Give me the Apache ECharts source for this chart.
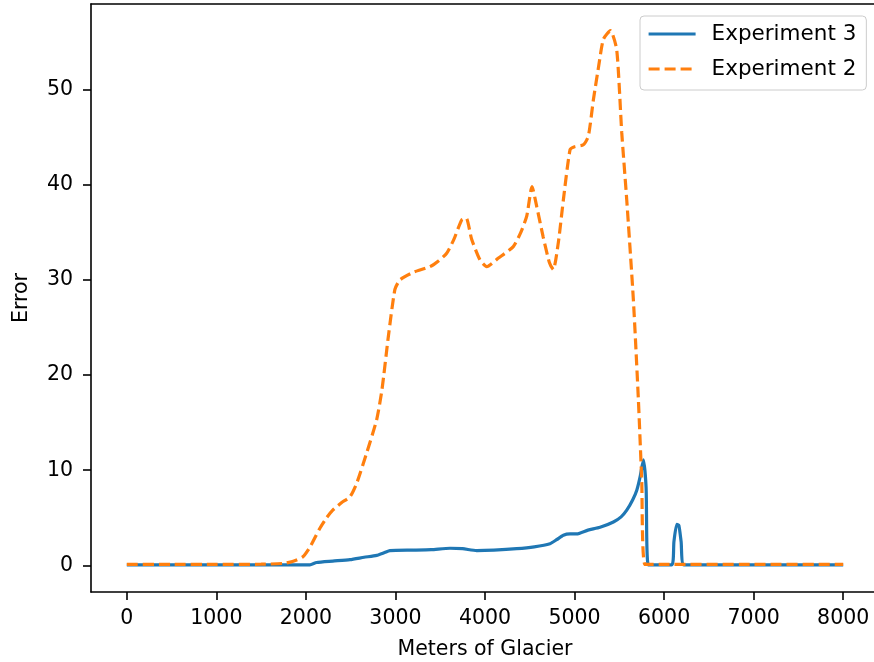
<!DOCTYPE html>
<html>
<head>
<meta charset="utf-8">
<script src="https://cdn.jsdelivr.net/npm/echarts@6/dist/echarts.min.js"></script>
<style>
  html, body { margin: 0; padding: 0; background: #fff; }
  #chart { width: 874px; height: 662px; }
</style>
</head>
<body>
<div id="chart"></div>
<script>
// data
var exp3X = [0, 1000, 2000, 2045, 2119, 2300, 2492, 2650, 2790, 2880, 2938, 3200, 3400, 3609, 3750, 3907,
  4100, 4354, 4550, 4726, 4800, 4875, 4950, 5024, 5150, 5285, 5434, 5520, 5583, 5650, 5695, 5732,
  5769, 5799, 5825, 6086, 6110, 6142, 6165, 6190, 6223, 8000];
var exp3Y = [0.05, 0.05, 0.05, 0.05, 0.3, 0.45, 0.6, 0.85, 1.05, 1.35, 1.55, 1.6, 1.65, 1.8, 1.75, 1.55,
  1.6, 1.75, 1.95, 2.28, 2.7, 3.16, 3.3, 3.3, 3.7, 4.0, 4.56, 5.1, 5.8, 6.9, 7.9, 9.3,
  11.1, 8.2, 0.05, 0.05, 2.5, 4.3, 4.2, 2.5, 0.05, 0.05];

var exp2X = [0, 500, 1000, 1500, 1743, 1850, 1966, 2050, 2150, 2231, 2300, 2400, 2492, 2566, 2678, 2790,
  2850, 2920, 2994, 3050, 3199, 3385, 3480, 3572, 3650, 3740, 3790, 3850, 3944, 4019, 4150, 4316,
  4400, 4466, 4525, 4578, 4650, 4720, 4763, 4820, 4875, 4950, 5000, 5098, 5154, 5210, 5270, 5322,
  5400, 5471, 5527, 5583, 5657, 5713, 5750, 5788, 6000, 7000, 8000];
var exp2Y = [0.1, 0.1, 0.1, 0.12, 0.2, 0.4, 0.9, 2.0, 3.8, 5.0, 5.8, 6.6, 7.2, 8.6, 11.8, 15.3,
  18.5, 24.0, 29.0, 30.0, 30.8, 31.4, 32.0, 32.8, 34.2, 36.3, 36.5, 34.3, 32.1, 31.4, 32.3, 33.5,
  35.0, 36.7, 39.8, 37.7, 34.5, 31.8, 31.1, 34.0, 38.4, 43.7, 44.0, 44.2, 45.1, 48.9, 52.5, 55.3,
  56.2, 54.2, 45.5, 38.4, 27.9, 17.4, 9.0, 0.1, 0.1, 0.1, 0.1];

var xTicks = [0, 1000, 2000, 3000, 4000, 5000, 6000, 7000, 8000];
var yTicks = [0, 10, 20, 30, 40, 50];

function pairs(xs, ys) {
  return xs.map(function (x, i) { return [x, ys[i]]; });
}

var myChart = echarts.init(document.getElementById('chart'));
var font = 'DejaVu Sans';
var spine = { color: '#000', width: 1.6 };

var option = {
  animation: false,
  backgroundColor: '#fff',
  textStyle: { fontFamily: font },
  grid: {
    left: 91, top: 4, width: 788, height: 588,
    outerBoundsMode: 'none', containLabel: false
  },
  legend: {
    orient: 'vertical',
    left: 640, top: 16,
    padding: [7, 10, 10, 7],
    itemWidth: 47, itemHeight: 20, itemGap: 13,
    backgroundColor: 'rgba(255,255,255,0.8)',
    borderColor: '#cccccc', borderWidth: 1, borderRadius: 4,
    itemStyle: { opacity: 0 },
    lineStyle: { width: 3.2 },
    textStyle: { fontFamily: font, fontSize: 21.5, color: '#000', padding: [0, 0, 0, 11] },
    data: ['Experiment 3', 'Experiment 2']
  },
  xAxis: [
    {
      type: 'value', min: -400, max: 8400,
      name: 'Meters of Glacier', nameLocation: 'middle', nameGap: 47,
      nameTextStyle: { fontFamily: font, fontSize: 20.5, color: '#000' },
      splitLine: { show: false },
      axisLine: { show: true, onZero: false, lineStyle: spine },
      axisTick: { show: true, length: 8, lineStyle: spine, customValues: xTicks },
      axisLabel: {
        fontFamily: font, fontSize: 20.5, color: '#000', margin: 16, customValues: xTicks,
        formatter: function (v) { return String(v); }
      }
    },
    {
      // top spine only
      type: 'value', position: 'top', min: -400, max: 8400,
      splitLine: { show: false },
      axisLine: { show: true, onZero: false, lineStyle: spine },
      axisTick: { show: false },
      axisLabel: { show: false }
    }
  ],
  yAxis: {
    type: 'value', min: -2.8, max: 59.0,
    name: 'Error', nameLocation: 'middle', nameGap: 59, nameRotate: 90,
    nameTextStyle: { fontFamily: font, fontSize: 20.5, color: '#000' },
    splitLine: { show: false },
    axisLine: { show: true, onZero: false, lineStyle: spine },
    axisTick: { show: true, length: 8, lineStyle: spine, customValues: yTicks },
    axisLabel: {
      fontFamily: font, fontSize: 20.5, color: '#000', margin: 18, customValues: yTicks,
      formatter: function (v) { return String(v); }
    }
  },
  series: [
    {
      name: 'Experiment 3',
      type: 'line',
      symbol: 'none',
      smooth: 0.2,
      color: '#1f77b4',
      lineStyle: { color: '#1f77b4', width: 3.2 },
      data: pairs(exp3X, exp3Y)
    },
    {
      name: 'Experiment 2',
      type: 'line',
      symbol: 'none',
      smooth: 0.2,
      color: '#ff7f0e',
      lineStyle: { color: '#ff7f0e', width: 3.2, type: [11, 5] },
      data: pairs(exp2X, exp2Y)
    }
  ]
};

myChart.setOption(option);
</script>
</body>
</html>
